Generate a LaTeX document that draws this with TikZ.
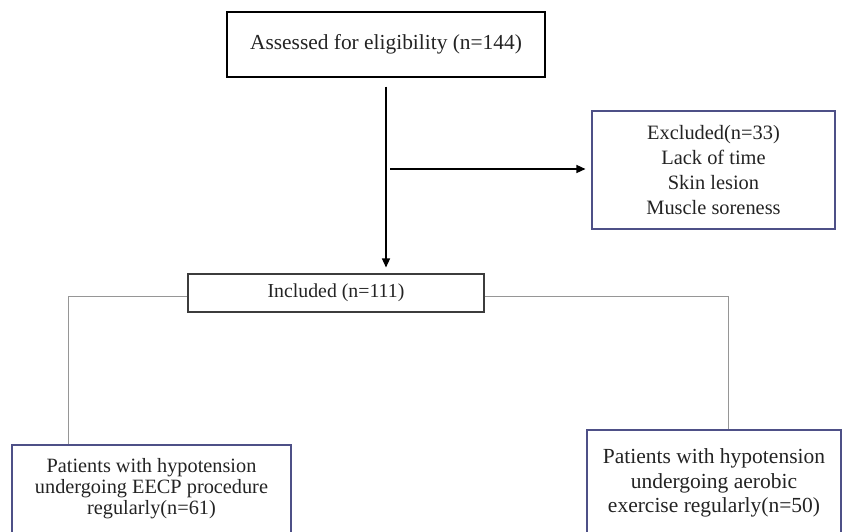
\documentclass[tikz,border=0pt]{standalone}
\usepackage{fontspec}
\setmainfont{Liberation Serif}
\usepackage{xcolor}
\definecolor{boxblue}{RGB}{78, 80, 135}
\definecolor{boxgray}{RGB}{60, 60, 60}
\definecolor{linkgray}{RGB}{150, 150, 150}
\definecolor{txtgray}{RGB}{35, 35, 35}
\usepackage{tikz}
\usetikzlibrary{arrows.meta, positioning}

\begin{document}
\begin{tikzpicture}[
    x=1pt, y=-1pt,
    every node/.style={align=center, text=txtgray, font=\fontsize{21}{24}\selectfont},
    blackbox/.style={rectangle, draw=black, line width=1.1pt, inner sep=0pt},
    greybox/.style={rectangle, draw=boxgray, line width=1.1pt, inner sep=0pt},
    bluebox/.style={rectangle, draw=boxblue, line width=1.1pt, inner sep=0pt},
    arrow/.style={-{Triangle[length=9pt, width=8pt]}, line width=1.4pt},
    link/.style={draw=linkgray, line width=1pt}
]
\useasboundingbox (0,0) rectangle (842,531);

% Nodes
\node[blackbox, minimum width=318pt, minimum height=65pt, font=\fontsize{21.4}{24}\selectfont] (assess) at (386,44.5) {Assessed for eligibility (n=144)};
\node[bluebox, minimum width=243pt, minimum height=118pt, font=\fontsize{20.4}{25}\selectfont] (excluded) at (713.5,170) {Excluded(n=33)\\ Lack of time\\ Skin lesion\\ Muscle soreness};
\node[greybox, minimum width=296pt, minimum height=38pt, font=\fontsize{19.8}{24}\selectfont] (included) at (336,293) {Included (n=111)};
\node[bluebox, minimum width=279pt, minimum height=88pt, font=\fontsize{20.3}{21}\selectfont] (eecp) at (151.5,489) {Patients with hypotension\\ undergoing EECP procedure\\ regularly(n=61)};
\node[bluebox, minimum width=254pt, minimum height=106pt, font=\fontsize{21.5}{24.5}\selectfont] (aerobic) at (714,483) {Patients with hypotension\\ undergoing aerobic\\ exercise regularly(n=50)};

\coordinate (split) at (386,169);
\coordinate (lturn) at (68,296);
\coordinate (rturn) at (728,296);

% Connections
\draw[arrow, shorten <=9pt, shorten >=6pt] (split |- assess.south) -- (split |- included.north);
\draw[arrow, shorten <=4pt, shorten >=6pt] (split) -- (excluded.west |- split);
\draw[link] ([yshift=-3pt]included.west) -- (lturn) -- (lturn |- eecp.north);
\draw[link] ([yshift=-3pt]included.east) -- (rturn) -- (rturn |- aerobic.north);

\end{tikzpicture}
\end{document}
